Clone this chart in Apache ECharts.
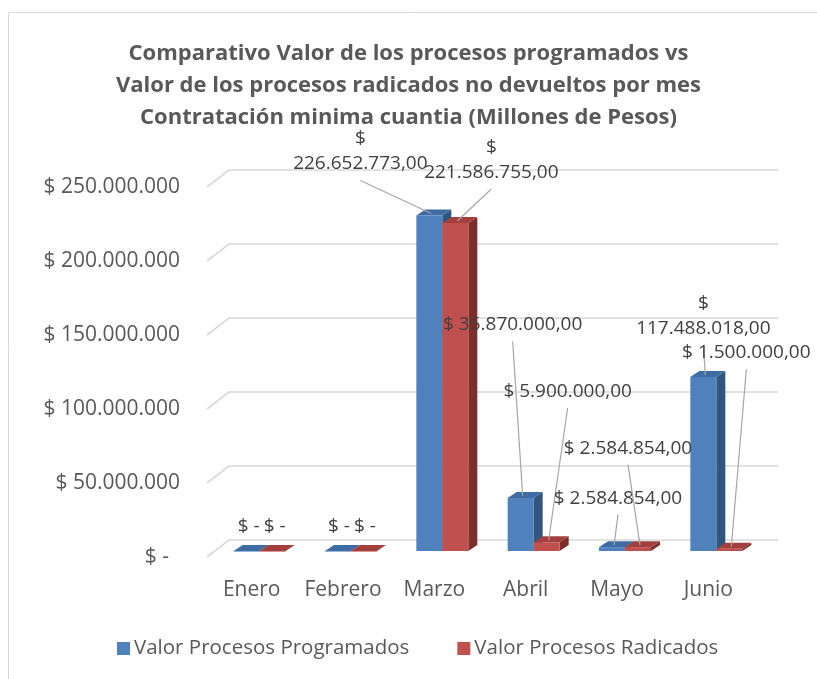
<!DOCTYPE html>
<html>
<head>
<meta charset="utf-8">
<script src="https://cdn.jsdelivr.net/npm/echarts@6/dist/echarts.min.js"></script>
<style>
html,body{margin:0;padding:0;background:#fff;}
#chart{width:817px;height:679px;}
</style>
</head>
<body>
<div id="chart"></div>
<script>
// ---- data ----
const categories = ['Enero', 'Febrero', 'Marzo', 'Abril', 'Mayo', 'Junio'];
const programados = [0, 0, 226652773, 35870000, 2584854, 117488018];
const radicados = [0, 0, 221586755, 5900000, 2584854, 1500000];
const seriesNames = ['Valor Procesos Programados', 'Valor Procesos Radicados'];
const yTicks = [0, 50000000, 100000000, 150000000, 200000000, 250000000];

// ---- layout (label offsets from bar top, wrap flag) ----
const labelLayoutProg = [[2, -24, 0], [1, -24, 0], [-69, -64, 1], [-8, -173, 0], [6, -49, 0], [0, -61, 1]];
const labelLayoutRad = [[2, -24, 0], [1, -24, 0], [36, -63, 1], [21, -151, 0], [-10, -99, 0], [17, -196, 0]];

const FONT = '"Open Sans", "DejaVu Sans", sans-serif';
const colors = {
  front: ['#4f81bd', '#c0504d'],
  top: ['#3e6ca3', '#a3403d'],
  side: ['#30557f', '#7c2e2c']
};
const DEPTH_X = 9, DEPTH_Y = -6;   // bar depth
const PLANE_X = 8, PLANE_Y = -6;   // bar front plane offset from label plane
const BAR_W = 26;

function fmt(v) {
  if (!v) return '$ -';
  const s = Math.round(v).toString().replace(/\B(?=(\d{3})+(?!\d))/g, '.');
  return '$ ' + s + ',00';
}

function barFrontX(cx, s) { return cx + PLANE_X + (s === 0 ? -BAR_W : 0); }

function renderBar(s) {
  return function (params, api) {
    const i = api.value(0), v = api.value(1);
    const base = api.coord([i, 0]);
    const top = api.coord([i, v]);
    const x0 = barFrontX(base[0], s), x1 = x0 + BAR_W;
    const yb = base[1] + PLANE_Y, yt = top[1] + PLANE_Y;
    return {
      type: 'group',
      children: [
        { type: 'polygon', shape: { points: [[x1, yb], [x1 + DEPTH_X, yb + DEPTH_Y], [x1 + DEPTH_X, yt + DEPTH_Y], [x1, yt]] },
          style: { fill: colors.side[s] } },
        { type: 'polygon', shape: { points: [[x0, yt], [x1, yt], [x1 + DEPTH_X, yt + DEPTH_Y], [x0 + DEPTH_X, yt + DEPTH_Y]] },
          style: { fill: colors.top[s] } },
        { type: 'rect', shape: { x: x0, y: yt, width: BAR_W, height: Math.max(yb - yt, 0.6) },
          style: { fill: colors.front[s] } }
      ]
    };
  };
}

function renderGrid(params, api) {
  const v = api.value(0);
  const p = api.coord([0, v]);
  const cs = params.coordSys;
  const xl = cs.x + 1, xr = cs.x + cs.width + 24;
  const y = p[1];
  return {
    type: 'polyline',
    shape: { points: [[xl, y], [xl + 22, y - 17], [xr, y - 17]] },
    style: { stroke: '#d9d9d9', lineWidth: 1.6, fill: null }
  };
}

function renderLabel(params, api) {
  const i = api.value(0), v = api.value(1), s = api.value(2);
  const lay = (s === 0 ? labelLayoutProg : labelLayoutRad)[i];
  const base = api.coord([i, 0]);
  const top = api.coord([i, v]);
  const bx = barFrontX(base[0], s) + BAR_W / 2;
  const by = top[1] + PLANE_Y;
  const lx = bx + lay[0], ly = by + lay[1];
  let txt = fmt(v);
  if (lay[2]) txt = txt.replace('$ ', '$\n');
  const lines = lay[2] ? 2 : 1;
  const lh = 25;
  const children = [{
    type: 'text',
    style: { text: txt, x: lx, y: ly, align: 'center', verticalAlign: 'middle',
      fontFamily: FONT, fontSize: 19, fill: '#404040', lineHeight: lh }
  }];
  const startY = ly + lines * lh / 2 + 4;
  if (by - startY > 12) {
    children.unshift({
      type: 'line',
      shape: { x1: lx, y1: startY, x2: bx + 2, y2: by - 2 },
      style: { stroke: '#a6a6a6', lineWidth: 1.2 }
    });
  }
  return { type: 'group', children };
}

const labelData = [];
categories.forEach((c, i) => {
  labelData.push([i, programados[i], 0]);
  labelData.push([i, radicados[i], 1]);
});

const chart = echarts.init(document.getElementById('chart'), null, { renderer: 'canvas' });
chart.setOption({
  animation: false,
  backgroundColor: '#ffffff',
  title: {
    text: 'Comparativo Valor de los procesos programados vs\nValor de los procesos radicados no devueltos por mes\nContratación minima cuantia (Millones de Pesos)',
    left: 'center', top: 33,
    textStyle: { fontFamily: FONT, fontSize: 22, fontWeight: 'bold', color: '#595959', lineHeight: 32 }
  },
  graphic: [{
    type: 'rect', z: -10, silent: true,
    shape: { x: 8.5, y: 12.5, width: 900, height: 900 },
    style: { fill: null, stroke: '#d9d9d9', lineWidth: 1 }
  }],
  legend: {
    data: seriesNames,
    left: 112, top: 633,
    icon: 'rect', itemWidth: 13, itemHeight: 13, itemGap: 48,
    textStyle: { fontFamily: FONT, fontSize: 20.5, color: '#595959', padding: [0, 0, 0, -1] }
  },
  grid: { left: 206, right: 63, top: 187, bottom: 122, containLabel: false },
  xAxis: {
    type: 'category', data: categories,
    axisLine: { show: false }, axisTick: { show: false },
    axisLabel: { interval: 0, fontFamily: FONT, fontSize: 21, color: '#595959', margin: 23 }
  },
  yAxis: {
    type: 'value', min: 0, max: 250000000, interval: 50000000,
    axisLine: { show: false }, axisTick: { show: false }, splitLine: { show: false },
    axisLabel: { fontFamily: FONT, fontSize: 21, color: '#595959', margin: 26, formatter: v => v === 0 ? '$ -  ' : fmt(v).replace(',00', '') }
  },
  series: [
    { type: 'custom', name: 'grid', silent: true, z: 1, renderItem: renderGrid,
      data: yTicks.map(t => [t]), encode: { y: 0 }, clip: false },
    { type: 'custom', name: seriesNames[0], z: 2, renderItem: renderBar(0), itemStyle: { color: colors.front[0] },
      data: programados.map((v, i) => [i, v]), encode: { x: 0, y: 1 }, clip: false },
    { type: 'custom', name: seriesNames[1], z: 3, renderItem: renderBar(1), itemStyle: { color: colors.front[1] },
      data: radicados.map((v, i) => [i, v]), encode: { x: 0, y: 1 }, clip: false },
    { type: 'custom', name: 'labels', z: 10, silent: true, renderItem: renderLabel,
      data: labelData, encode: { x: 0, y: 1 }, clip: false }
  ]
});
</script>
</body>
</html>
